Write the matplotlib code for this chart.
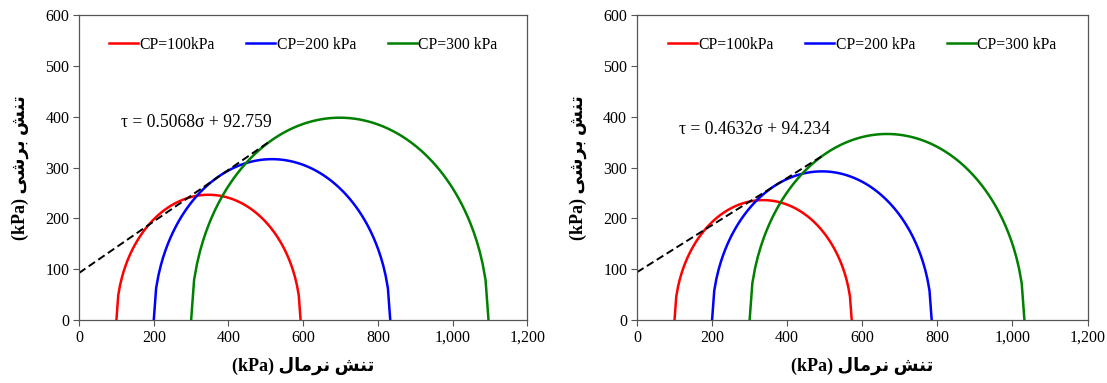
import numpy as np
import matplotlib
matplotlib.use("Agg")
import matplotlib.pyplot as plt

# Mohr circles: confining pressure (sigma3) and major principal stress (sigma1), kPa
labels = ["CP=100kPa", "CP=200 kPa", "CP=300 kPa"]
colors = ["red", "blue", "green"]
sigma3 = [100, 200, 300]
sigma1_left = [593, 833, 1096]
sigma1_right = [572, 785, 1032]

# failure envelopes tau = a*sigma + c
slope_left, icpt_left, end_left = 0.5068, 92.759, 510
slope_right, icpt_right, end_right = 0.4632, 94.234, 497
eq_left = "τ = 0.5068σ + 92.759"
eq_right = "τ = 0.4632σ + 94.234"

xticks = [0, 200, 400, 600, 800, 1000, 1200]
xticklabels = ["0", "200", "400", "600", "800", "1,000", "1,200"]
yticks = [0, 100, 200, 300, 400, 500, 600]

# Persian labels, pre-shaped (presentation forms, visual order)
xlabel = "(kPa) \uFEDD\uFE8E\uFEE3\uFEAE\uFEE7 \uFEB6\uFEE8\uFE97"
ylabel = "(kPa) \uFEF0\uFEB7\uFEAE\uFE91 \uFEB6\uFEE8\uFE97"

serif = "Liberation Serif"
lab_family = ["Liberation Serif", "DejaVu Sans"]

fig = plt.figure(figsize=(11.07, 3.83), dpi=100)
ax1 = fig.add_axes([0.0714, 0.164, 0.405, 0.797])
ax2 = fig.add_axes([0.5754, 0.164, 0.407, 0.797])


def draw(ax, s1_list, a, c, x_end, eq, eq_y):
    for s3, s1, col, lab in zip(sigma3, s1_list, colors, labels):
        ctr = (s1 + s3) / 2.0
        r = (s1 - s3) / 2.0
        x = np.linspace(s3, s1, 101)
        y = np.sqrt(np.clip(r**2 - (x - ctr)**2, 0, None))
        ax.plot(x, y, color=col, lw=1.8, label=lab)
    xl = np.array([0, x_end])
    ax.plot(xl, a * xl + c, color="black", lw=1.4, ls=(0, (4, 2)))
    ax.text(112, eq_y, eq, fontsize=12.7, family=serif, va="center")
    ax.set_xlim(0, 1200)
    ax.set_ylim(0, 600)
    ax.set_xticks(xticks)
    ax.set_xticklabels(xticklabels)
    ax.set_yticks(yticks)
    for lb in ax.get_xticklabels() + ax.get_yticklabels():
        lb.set_family(serif)
        lb.set_fontsize(11.5)
    ax.tick_params(direction="out", length=4, color="#555555", pad=3)
    for sp in ax.spines.values():
        sp.set_color("#555555")
        sp.set_linewidth(0.9)
    ax.set_xlabel(xlabel, family=lab_family, fontsize=13, fontweight="bold", labelpad=8)
    ax.set_ylabel(ylabel, family=lab_family, fontsize=13, fontweight="bold", labelpad=12)
    ax.legend(loc="upper center", bbox_to_anchor=(0.5, 0.975), ncol=3, frameon=False,
              prop={"family": serif, "size": 11.3}, handlelength=1.85, handletextpad=0.1,
              columnspacing=2.0)


draw(ax1, sigma1_left, slope_left, icpt_left, end_left, eq_left, 388)
draw(ax2, sigma1_right, slope_right, icpt_right, end_right, eq_right, 374)

fig.savefig("out.png", dpi=100)
